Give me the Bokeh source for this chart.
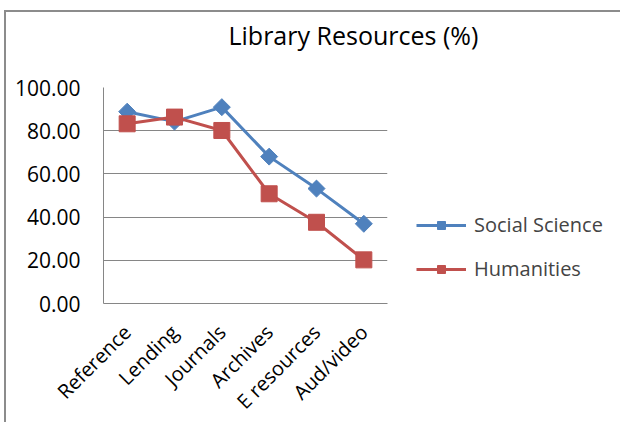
import math
from bokeh.plotting import figure
from bokeh.models import Range1d, FactorRange, Legend, LegendItem, Title
from bokeh.embed import file_html
from bokeh.resources import INLINE

categories = ["Reference", "Lending", "Journals", "Archives", "E resources", "Aud/video"]
social_science = [88.8, 84.2, 90.9, 68.0, 53.2, 36.9]
humanities = [83.2, 86.3, 80.1, 50.8, 37.6, 20.2]
y_ticks = [0, 20, 40, 60, 80, 100]
y_tick_labels = {0: "0.00", 20: "20.00", 40: "40.00", 60: "60.00", 80: "80.00", 100: "100.00"}

FONT = "Open Sans"
BLUE = "#4F81BD"
RED = "#C0504D"
GRID = "#868686"

p = figure(
    frame_width=284, frame_height=216,
    x_range=FactorRange(*categories, range_padding=0),
    y_range=Range1d(0, 100),
    output_backend="svg", toolbar_location=None,
    min_border_left=97, min_border_right=10,
    min_border_top=75, min_border_bottom=115,
)
p.styles = {"border-left": "2px solid #8c8c8c", "border-top": "2px solid #8c8c8c",
            "margin-left": "4px", "margin-top": "10px"}

p.title.text = "Library Resources (%)"
p.title.text_font = FONT
p.title.text_font_size = "25px"
p.title.text_font_style = "normal"
p.title.text_color = "#000000"
p.title.align = "left"
p.title.offset = 125
p.title.standoff = 0

# spacer between title and plot area
p.add_layout(Title(text=" ", text_font_size="12px", standoff=20), "above")

p.outline_line_color = None
p.background_fill_color = "white"

# axes
p.yaxis.ticker = y_ticks
p.yaxis.major_label_overrides = y_tick_labels
p.yaxis.major_label_text_font = FONT
p.yaxis.major_label_text_font_size = "21px"
p.yaxis.major_label_text_color = "#000000"
p.yaxis.major_tick_line_color = None
p.yaxis.minor_tick_line_color = None
p.yaxis.axis_line_color = GRID
p.yaxis.major_label_standoff = 17

p.xaxis.major_label_orientation = math.pi / 4
p.xaxis.major_label_text_font = FONT
p.xaxis.major_label_text_font_size = "20px"
p.xaxis.major_label_text_color = "#000000"
p.xaxis.major_tick_line_color = None
p.xaxis.axis_line_color = GRID
p.xaxis.major_label_standoff = 19

p.xgrid.grid_line_color = None
p.ygrid.grid_line_color = GRID
p.ygrid.grid_line_width = 1

l1 = p.line(categories, social_science, line_color=BLUE, line_width=3)
s1 = p.scatter(categories, social_science, marker="square", angle=math.pi / 4, size=12,
               fill_color=BLUE, line_color=BLUE)
l2 = p.line(categories, humanities, line_color=RED, line_width=3)
s2 = p.scatter(categories, humanities, marker="square", size=16, fill_color=RED, line_color=RED)

legend = Legend(
    items=[LegendItem(label="Social Science", renderers=[l1, s1]),
           LegendItem(label="Humanities", renderers=[l2, s2])],
    location=(29, 21), margin=0,
    label_text_font=FONT, label_text_font_size="20px",
    glyph_width=50, glyph_height=20, label_height=20, spacing=17,
    border_line_color=None, background_fill_alpha=0,
    label_standoff=8,
)
p.add_layout(legend, "right")

open("out.html", "w").write(file_html(p, INLINE))
